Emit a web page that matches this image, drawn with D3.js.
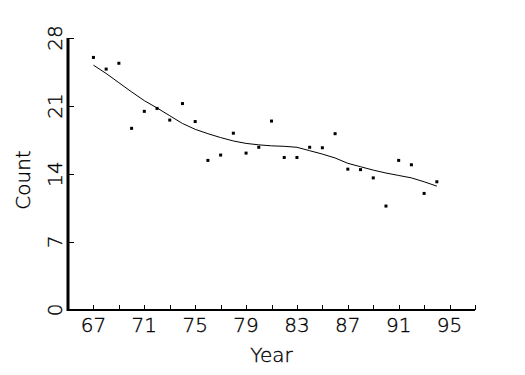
<!DOCTYPE html>
<html>
<head>
<meta charset="utf-8">
<script src="https://cdn.jsdelivr.net/npm/d3@7/dist/d3.min.js"></script>
<style>
  body { margin:0; background:#fff; }
  text { font-family:"DejaVu Sans", sans-serif; font-weight:200; fill:#000; stroke:#000; stroke-width:0.35px; }
</style>
</head>
<body>
<div id="chart"></div>
<script>
var svgW = 525,
    svgH = 375;

// observed counts per year
var years  = [67,68,69,70,71,72,73,74,75,76,77,78,79,80,81,82,83,84,85,86,87,88,89,90,91,92,93,94];
var counts = [26.0,24.8,25.4,18.7,20.45,20.75,19.55,21.25,19.4,15.4,15.95,18.2,16.15,16.75,19.45,15.7,15.7,16.75,16.7,18.15,14.5,14.45,13.6,10.7,15.4,14.95,12.0,13.2];
// smoothed curve
var smooth = [25.2,24.35,23.4,22.45,21.55,20.8,20.0,19.2,18.6,18.15,17.75,17.4,17.15,17.0,16.9,16.85,16.75,16.4,16.05,15.65,15.1,14.75,14.4,14.1,13.85,13.6,13.2,12.75];

var xTicks = [67,69,71,73,75,77,79,81,83,85,87,89,91,93,95,97];
var xLabels = [67,71,75,79,83,87,91,95];
var yTicks = [0,7,14,21,28];

var x = d3.scaleLinear().domain([65,97]).range([68,475]);
var y = d3.scaleLinear().domain([0,28]).range([310,38]);

var svg = d3.select("#chart")
  .append("svg")
    .attr("width", svgW)
    .attr("height", svgH);

// axes lines
svg.append("line")
  .attr("x1",x(65)).attr("x2",x(97))
  .attr("y1",y(0)).attr("y2",y(0))
  .attr("stroke","#000").attr("stroke-width",2);
svg.append("line")
  .attr("x1",x(65)).attr("x2",x(65))
  .attr("y1",y(0)+1).attr("y2",y(28))
  .attr("stroke","#000").attr("stroke-width",3);

// x ticks (inward)
svg.append("g").selectAll("line")
  .data(xTicks).enter()
  .append("line")
    .attr("x1",function(d){ return Math.round(x(d))+0.5; })
    .attr("x2",function(d){ return Math.round(x(d))+0.5; })
    .attr("y1",y(0)).attr("y2",y(0)-5)
    .attr("stroke","#000").attr("stroke-width",1);

svg.append("g").selectAll("text")
  .data(xLabels).enter()
  .append("text")
    .attr("x",function(d){ return x(d); })
    .attr("y",332)
    .attr("text-anchor","middle")
    .style("font-size","20px")
    .text(function(d){ return d; });

// y ticks (inward)
svg.append("g").selectAll("line")
  .data(yTicks).enter()
  .append("line")
    .attr("x1",x(65)).attr("x2",x(65)+6)
    .attr("y1",function(d){ return Math.round(y(d))+0.5; })
    .attr("y2",function(d){ return Math.round(y(d))+0.5; })
    .attr("stroke","#000").attr("stroke-width",1);

svg.append("g").selectAll("text")
  .data(yTicks).enter()
  .append("text")
    .attr("transform",function(d){ return "translate(62," + y(d) + ") rotate(-90)"; })
    .attr("text-anchor","middle")
    .style("font-size","20px")
    .text(function(d){ return d; });

// axis titles
svg.append("text")
  .attr("x",(x(65)+x(97))/2)
  .attr("y",362)
  .attr("text-anchor","middle")
  .style("font-size","20px")
  .text("Year");

svg.append("text")
  .attr("transform","translate(30,180) rotate(-90)")
  .attr("text-anchor","middle")
  .style("font-size","20px")
  .text("Count");

// smoothed line
var line = d3.line()
  .x(function(d,i){ return x(years[i]); })
  .y(function(d){ return y(d); });

svg.append("path")
  .datum(smooth)
  .attr("d",line)
  .attr("fill","none")
  .attr("stroke","#000")
  .attr("stroke-width",1);

// data points
svg.append("g").selectAll("rect")
  .data(counts).enter()
  .append("rect")
    .attr("x",function(d,i){ return x(years[i])-1.5; })
    .attr("y",function(d){ return y(d)-1.5; })
    .attr("width",3)
    .attr("height",3)
    .attr("fill","#000");
</script>
</body>
</html>
